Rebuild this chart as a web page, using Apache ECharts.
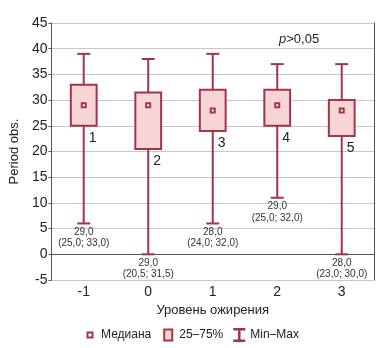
<!DOCTYPE html>
<html>
<head>
<meta charset="utf-8">
<script src="https://cdn.jsdelivr.net/npm/echarts@6/dist/echarts.min.js"></script>
<style>
  html, body { margin: 0; padding: 0; background: #fff; }
  #chart { width: 382px; height: 348px; }
</style>
</head>
<body>
<div id="chart"></div>
<script>
// Obesity level groups and the period statistics per group
const categories = ['-1', '0', '1', '2', '3'];
const minVals    = [6, 0, 6, 11, 0];
const q1Vals     = [25, 20.5, 24, 25, 23];
const medianVals = [29, 29, 28, 29, 28];
const q3Vals     = [33, 31.5, 32, 32, 30];
const maxVals    = [39, 38, 39, 37, 37];
const groupNums  = ['1', '2', '3', '4', '5'];
const yTicks     = [-5, 0, 5, 10, 15, 20, 25, 30, 35, 40, 45];

const MAIN = '#a23549';
const FILL = '#f8d5d5';
const FONT = 'Liberation Sans';

const rows = categories.map((c, i) => [i, minVals[i], q1Vals[i], medianVals[i], q3Vals[i], maxVals[i]]);
const fmt = v => v.toFixed(1).replace('.', ',');

const chart = echarts.init(document.getElementById('chart'), null, { renderer: 'canvas' });

chart.setOption({
  animation: false,
  backgroundColor: '#fff',
  textStyle: { fontFamily: FONT },
  grid: { left: 48, right: 8, top: 23, bottom: 68 },
  xAxis: [{
    type: 'category',
    data: categories,
    position: 'bottom',
    name: 'Уровень ожирения',
    nameLocation: 'middle',
    nameGap: 21,
    nameTextStyle: { fontSize: 13, color: '#222', fontFamily: FONT },
    axisLine: { lineStyle: { color: '#555', width: 1 } },
    axisTick: { inside: true, alignWithLabel: true, length: 5, lineStyle: { color: '#555' } },
    axisLabel: { fontSize: 14, color: '#222', margin: 5, fontFamily: FONT },
    splitLine: { show: false }
  }, {
    type: 'category',
    data: categories,
    position: 'top',
    axisLine: { lineStyle: { color: '#555', width: 1 } },
    axisTick: { inside: true, alignWithLabel: true, length: 5, lineStyle: { color: '#555' } },
    axisLabel: { show: false },
    splitLine: { show: false }
  }],
  yAxis: [{
    type: 'value',
    min: yTicks[0],
    max: yTicks[yTicks.length - 1],
    interval: 5,
    name: 'Period obs.',
    nameLocation: 'middle',
    nameGap: 21,
    nameTextStyle: { fontSize: 13, color: '#222', fontFamily: FONT },
    axisLine: { show: true, lineStyle: { color: '#555', width: 1 } },
    axisTick: { show: true, length: 3, lineStyle: { color: '#555' } },
    axisLabel: { fontSize: 14, color: '#222', margin: 4, fontFamily: FONT },
    splitLine: { lineStyle: { color: '#c8c8c8', width: 1 } }
  }, {
    type: 'value',
    position: 'right',
    min: yTicks[0],
    max: yTicks[yTicks.length - 1],
    interval: 5,
    axisLine: { show: true, lineStyle: { color: '#555', width: 1 } },
    axisTick: { show: false },
    axisLabel: { show: false },
    splitLine: { show: false }
  }],
  legend: {
    top: 322,
    left: 'center',
    itemWidth: 12,
    itemHeight: 14,
    itemGap: 10,
    textStyle: { fontSize: 12, color: '#222', fontFamily: FONT },
    data: [
      { name: 'Медиана', icon: 'path://M0,0M12,14M3.5,4.5h5v5h-5z',
        itemStyle: { color: '#fff', borderColor: MAIN, borderWidth: 2 } },
      { name: '25–75%', icon: 'path://M0,0M12,14M2,1.5h8v11h-8z',
        itemStyle: { color: FILL, borderColor: MAIN, borderWidth: 2 } },
      { name: 'Min–Max', icon: 'path://M0,0h12v2.5h-4.75v9h4.75v2.5h-12v-2.5h4.75v-9h-4.75z',
        itemStyle: { color: MAIN, borderWidth: 0 } }
    ]
  },
  graphic: [{
    type: 'text',
    left: 279,
    top: 33,
    style: {
      text: '{i|p}>0,05',
      fontSize: 13,
      fontFamily: FONT,
      fill: '#222',
      rich: { i: { fontStyle: 'italic', fontSize: 13, fontFamily: FONT } }
    }
  }],
  series: [{
    // whiskers with caps and the median / quartile note under each
    name: 'Min–Max',
    type: 'custom',
    data: rows,
    encode: { x: 0, y: [1, 5] },
    z: 2,
    renderItem: function (params, api) {
      const i = api.value(0);
      const top = api.coord([i, api.value(5)]);
      const bot = api.coord([i, api.value(1)]);
      const cap = 6.5;
      const stroke = { stroke: MAIN, lineWidth: 2 };
      return {
        type: 'group',
        children: [
          { type: 'line', shape: { x1: top[0], y1: top[1], x2: bot[0], y2: bot[1] }, style: stroke },
          { type: 'line', shape: { x1: top[0] - cap, y1: top[1], x2: top[0] + cap, y2: top[1] }, style: stroke },
          { type: 'line', shape: { x1: bot[0] - cap, y1: bot[1], x2: bot[0] + cap, y2: bot[1] }, style: stroke },
          { type: 'text', style: {
              text: fmt(api.value(3)) + '\n(' + fmt(api.value(2)) + '; ' + fmt(api.value(4)) + ')',
              x: bot[0], y: bot[1] + 3,
              align: 'center', verticalAlign: 'top',
              fontSize: 10, lineHeight: 11.5, fontFamily: FONT, fill: '#333'
          } }
        ]
      };
    }
  }, {
    // interquartile boxes with group number
    name: '25–75%',
    type: 'custom',
    data: rows,
    encode: { x: 0, y: [2, 4] },
    z: 3,
    renderItem: function (params, api) {
      const i = api.value(0);
      const hi = api.coord([i, api.value(4)]);
      const lo = api.coord([i, api.value(2)]);
      const w = api.size([1, 0])[0] * 0.4;
      return {
        type: 'group',
        children: [
          { type: 'rect', shape: { x: hi[0] - w / 2, y: hi[1], width: w, height: lo[1] - hi[1] },
            style: { fill: FILL, stroke: MAIN, lineWidth: 2 } },
          { type: 'text', style: {
              text: groupNums[params.dataIndex],
              x: lo[0] + 5, y: lo[1] + 5,
              align: 'left', verticalAlign: 'top',
              fontSize: 14, fontFamily: FONT, fill: '#222'
          } }
        ]
      };
    }
  }, {
    name: 'Медиана',
    type: 'scatter',
    data: medianVals.map((v, i) => [i, v]),
    symbol: 'rect',
    symbolSize: 4,
    z: 4,
    itemStyle: { color: '#fff', borderColor: MAIN, borderWidth: 2, opacity: 1 }
  }]
});
</script>
</body>
</html>
